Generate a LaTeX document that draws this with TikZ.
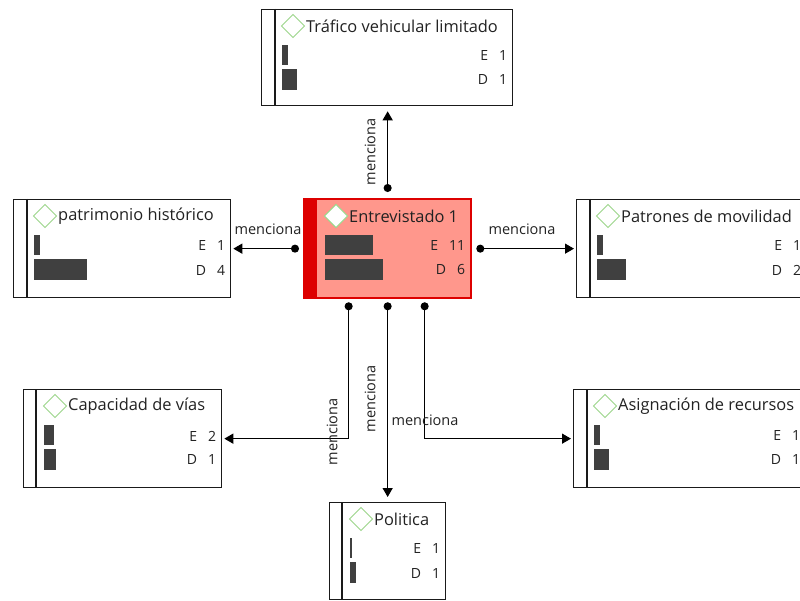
\documentclass[tikz,border=0pt]{standalone}
\usepackage{fontspec}
\setmainfont{Open Sans}
\usetikzlibrary{calc,arrows.meta}
\definecolor{boxline}{HTML}{1A1A1A}
\definecolor{iconc}{HTML}{9CD68A}
\definecolor{barc}{HTML}{404040}
\definecolor{salmon}{HTML}{FF978C}
\definecolor{redc}{HTML}{DD0000}
\definecolor{txtc}{HTML}{222222}
\tikzset{
  entity/.style={draw=boxline, line width=1.3pt, fill=white, rectangle, inner sep=0pt, anchor=north west},
  focus/.style={entity, draw=redc, fill=salmon},
  divider/.style={draw=boxline, line width=1.3pt},
  iconst/.style={draw=iconc, fill=white, line width=1pt},
  titletxt/.style={anchor=west, inner sep=0pt, text=txtc, font=\fontsize{16.4}{18}\selectfont},
  counttxt/.style={anchor=east, inner sep=0pt, text=txtc, font=\fontsize{14}{16}\selectfont},
  bar/.style={fill=barc, draw=none},
  conn/.style={line width=1.3pt, draw=black, {Circle[length=8pt]}-{Triangle[length=9pt,width=10pt]}},
  lbl/.style={inner sep=0pt, text=txtc, font=\fontsize{14.5}{16}\selectfont},
}
\newcommand\entbox[7]{% style name x1 y1 x2 y2 title
  \node[#1, minimum width={(#5-#3)*1pt}, minimum height={(#6-#4)*1pt}] (#2) at (#3,#4) {};
  \draw[iconst] ($(#2.north west)+(32,17)$) +(-11.5,0) -- +(0,-11.5) -- +(11.5,0) -- +(0,11.5) -- cycle;
  \node[titletxt] (#2-title) at ($(#2.north west)+(45,17.5)$) {#7};
}
\newcommand\entbars[5]{% name Ew Dw E D
  \fill[bar] ($(#1.north west)+(21,36)$) rectangle +(#2,20);
  \fill[bar] ($(#1.north west)+(21,60)$) rectangle +(#3,21);
  \node[counttxt] (#1-e) at ($(#1.north east)+(-6,47)$) {E\hspace{11pt}#4};
  \node[counttxt] (#1-d) at ($(#1.north east)+(-6,71)$) {D\hspace{11pt}#5};
}
\begin{document}
\begin{tikzpicture}[x=1pt,y=-1pt]
\useasboundingbox (0,0) rectangle (800,601);
\clip (0,0) rectangle (800,601);
\fill[white] (0,0) rectangle (800,601);

% entity boxes
\entbox{entity}{traf}{261}{9}{512}{105}{Tráfico vehicular limitado}
\draw[divider] ($(traf.north west)+(14,0)$) -- ($(traf.south west)+(14,0)$);
\entbars{traf}{6}{15}{1}{1}

\entbox{focus}{ent}{304}{199}{470}{297}{Entrevistado 1}
\fill[redc] (ent.north west) rectangle ($(ent.south west)+(13,0)$);
\draw[draw=redc, line width=1.3pt] (ent.north west) rectangle (ent.south east);
\draw[iconst] ($(ent.north west)+(32,17)$) +(-11.5,0) -- +(0,-11.5) -- +(11.5,0) -- +(0,11.5) -- cycle;
\entbars{ent}{48}{58}{11}{6}

\entbox{entity}{patr}{13}{199}{230}{297}{patrimonio histórico}
\draw[divider] ($(patr.north west)+(14,0)$) -- ($(patr.south west)+(14,0)$);
\entbars{patr}{6}{53}{1}{4}

\entbox{entity}{movi}{576}{199}{806}{297}{Patrones de movilidad}
\draw[divider] ($(movi.north west)+(14,0)$) -- ($(movi.south west)+(14,0)$);
\entbars{movi}{6}{29}{1}{2}

\entbox{entity}{capa}{23}{389}{221}{487}{Capacidad de vías}
\draw[divider] ($(capa.north west)+(13,0)$) -- ($(capa.south west)+(13,0)$);
\entbars{capa}{10}{12}{2}{1}

\entbox{entity}{asig}{573}{389}{805}{487}{Asignación de recursos}
\draw[divider] ($(asig.north west)+(14,0)$) -- ($(asig.south west)+(14,0)$);
\entbars{asig}{6}{15}{1}{1}

\entbox{entity}{poli}{329}{502}{445}{599}{Politica}
\draw[divider] ($(poli.north west)+(13,0)$) -- ($(poli.south west)+(13,0)$);
\entbars{poli}{2}{6}{1}{1}

% connectors
\draw[conn] ($(ent.north)+(0,-7)$) -- ($(traf.south)+(0.5,5)$);
\draw[conn] ($(ent.west)+(-5,0)$) -- ($(patr.east)+(2,0)$);
\draw[conn] ($(ent.east)+(5,0)$) -- ($(movi.west)+(-2,0)$);
\draw[conn] ($(ent.south)+(-39,4)$) |- ($(capa.east)+(2,0)$);
\draw[conn] ($(ent.south)+(0,4)$) -- ($(poli.north)+(0,-5)$);
\draw[conn] ($(ent.south)+(37,4)$) |- ($(asig.west)+(-2,0)$);

% labels
\node[lbl, rotate=90] (l1) at (370,152) {menciona};
\node[lbl] (l2) at (268,229) {menciona};
\node[lbl] (l3) at (522,229) {menciona};
\node[lbl, rotate=90] (l4) at (332,432) {menciona};
\node[lbl, rotate=90] (l5) at (370,399) {menciona};
\node[lbl] (l6) at (425,420) {menciona};
\end{tikzpicture}
\end{document}
